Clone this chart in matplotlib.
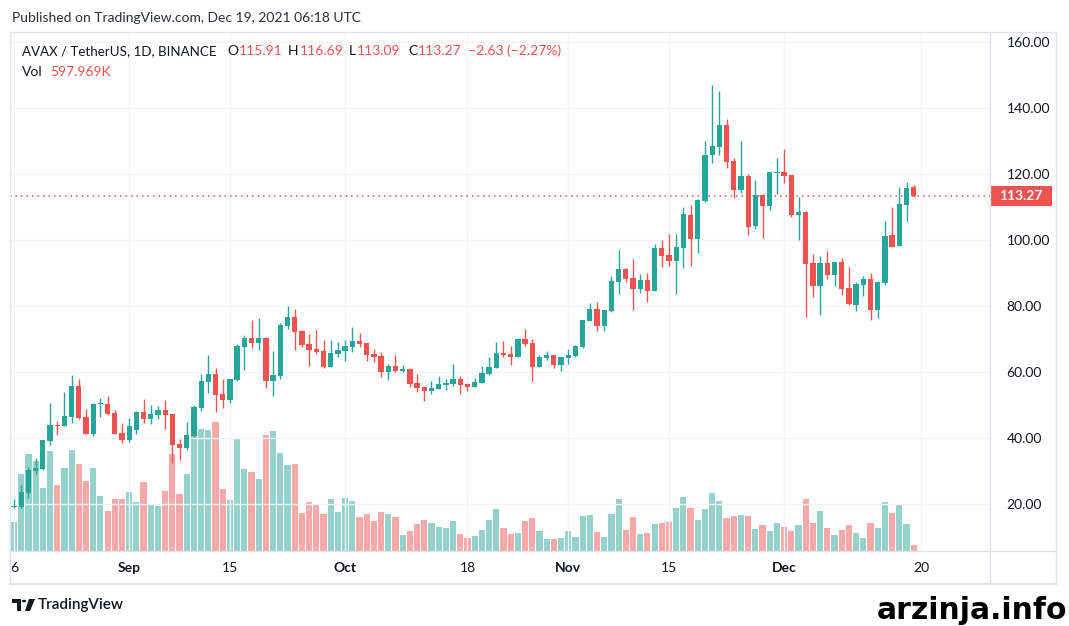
import matplotlib
matplotlib.use('Agg')
import matplotlib.pyplot as plt
import matplotlib.dates as mdates
import matplotlib.transforms as mtransforms
from matplotlib.patches import Rectangle, Polygon, Circle
from matplotlib.lines import Line2D
import pandas as pd
import numpy as np

plt.rcParams['font.family'] = ['Lato', 'DejaVu Sans']

# ---------------- data ----------------
dates = pd.date_range('2021-08-16', '2021-12-19', freq='D')

opens = [19.0, 19.2, 23.4, 30.1, 30.7, 39.2, 43.9, 43.7, 46.5, 55.8, 46.4, 41.3, 50.2, 50.3, 47.6, 41.5,
         39.5, 42.5, 47.9, 45.9, 47.1, 48.5, 47.3, 38.2, 37.1, 40.7, 49.2, 57.1, 59.4, 53.3, 51.6, 57.7,
         67.7, 70.3, 68.9, 70.3, 57.4, 58.9, 74.0, 76.7, 72.4, 68.5, 67.0, 66.4, 61.6, 65.6,
         66.5, 67.7, 69.4, 68.8, 65.5, 64.8, 60.1, 61.8, 60.4, 60.9, 56.7, 55.5, 54.3, 54.9, 56.2, 56.5,
         57.9, 56.4, 55.6, 56.8, 59.4, 61.3, 65.8, 65.5, 64.6, 70.0, 68.8, 61.5, 64.2, 65.2, 62.1,
         64.2, 64.8, 67.6, 75.5, 79.1, 73.9, 78.5, 87.4, 91.2, 88.5, 85.1, 87.9, 84.5, 97.6, 95.4, 93.6,
         97.6, 107.6, 100.3, 111.9, 125.7, 128.2, 134.8, 123.9, 115.1, 119.4, 104.2, 113.6, 110.3, 120.3,
         120.6, 119.7, 107.6, 108.5, 93.0, 86.1, 93.0, 89.4, 93.3, 85.5, 80.3, 86.4, 88.2, 78.8, 87.0,
         101.5, 98.2, 110.6, 115.91]
highs = [21.4, 25.8, 31.2, 33.9, 39.5, 50.6, 45.2, 53.9, 59.1, 57.9, 48.8, 50.7, 52.1, 52.7, 48.5, 44.5,
         46.1, 48.2, 51.8, 50.0, 49.7, 51.5, 47.3, 39.7, 44.8, 50.0, 59.4, 65.2, 61.2, 57.9, 57.9, 68.5,
         71.2, 75.8, 76.4, 70.6, 66.4, 74.8, 80.0, 79.1, 72.7, 71.5, 72.7, 69.7, 69.7, 69.1,
         69.7, 73.6, 71.8, 68.8, 67.0, 66.1, 62.4, 65.2, 62.1, 61.2, 59.4, 55.5, 57.3, 58.8, 57.9, 62.4,
         58.8, 56.8, 58.2, 61.8, 64.5, 69.1, 69.4, 67.9, 70.0, 73.0, 70.0, 65.2, 66.4, 65.2, 64.5,
         67.0, 68.2, 75.8, 80.9, 81.2, 78.8, 89.1, 97.0, 91.5, 94.2, 89.7, 90.0, 98.8, 100.0, 101.8, 101.8,
         110.0, 110.6, 112.4, 130.0, 147.0, 145.1, 136.7, 124.8, 130.0, 120.0, 118.2, 113.9, 120.6, 124.8,
         127.6, 119.7, 113.0, 108.8, 95.8, 95.2, 96.7, 93.3, 94.5, 91.8, 87.3, 89.1, 90.0, 87.6, 105.8,
         110.0, 116.1, 117.6, 116.69]
lows = [18.8, 18.9, 21.9, 29.2, 30.4, 38.0, 41.0, 43.7, 44.4, 45.8, 41.3, 40.7, 46.5, 47.1, 41.3, 38.6,
        38.9, 41.3, 44.6, 44.3, 45.9, 42.8, 32.5, 33.4, 36.5, 40.4, 48.3, 53.7, 48.0, 49.2, 50.7, 57.4,
        60.6, 67.4, 66.8, 55.3, 52.8, 58.0, 73.1, 66.8, 67.7, 61.9, 65.5, 61.2, 61.6, 64.6,
        63.4, 66.2, 67.7, 63.4, 63.0, 58.6, 57.7, 60.1, 60.1, 55.6, 54.0, 51.3, 53.4, 54.9, 54.6, 55.9,
        53.4, 54.3, 55.6, 56.8, 59.1, 61.3, 64.6, 62.1, 64.6, 67.9, 57.3, 61.5, 63.6, 61.2, 60.3,
        62.4, 64.5, 67.3, 75.5, 72.4, 72.4, 78.2, 83.7, 87.4, 78.8, 83.9, 81.2, 84.5, 91.8, 92.1, 83.6,
        91.5, 92.1, 96.1, 111.5, 123.3, 125.7, 121.8, 112.7, 114.2, 101.5, 103.3, 100.6, 109.1, 113.9,
        117.3, 107.0, 100.0, 76.7, 82.7, 77.3, 88.2, 86.1, 83.3, 80.3, 78.5, 83.0, 75.8, 76.4, 86.4,
        97.9, 98.2, 105.8, 113.09]
closes = [19.5, 23.5, 30.3, 31.0, 39.4, 43.9, 43.7, 46.7, 55.8, 46.2, 41.3, 50.3, 50.4, 47.4, 41.3, 39.5,
          43.5, 47.9, 45.9, 47.3, 48.5, 47.1, 38.0, 37.1, 40.9, 49.4, 57.3, 59.4, 53.1, 51.6, 57.9, 67.9,
          70.3, 68.9, 70.3, 57.4, 59.1, 74.2, 76.7, 72.2, 68.3, 66.8, 66.1, 61.6, 65.8, 66.7,
          67.9, 69.4, 68.6, 65.3, 64.6, 60.1, 61.8, 60.4, 60.9, 56.5, 55.3, 54.3, 55.2, 56.4, 56.8, 57.9,
          56.2, 55.6, 57.0, 59.7, 61.5, 65.8, 65.2, 64.6, 70.0, 68.5, 61.5, 64.5, 65.2, 62.1, 64.5,
          65.2, 67.9, 75.8, 79.1, 73.9, 78.8, 87.6, 91.2, 88.2, 85.1, 87.9, 84.5, 97.6, 95.1, 93.6, 97.9,
          107.9, 100.3, 112.1, 125.7, 128.5, 134.8, 123.6, 115.1, 119.4, 104.0, 113.6, 110.3, 120.6, 120.6,
          119.4, 107.6, 108.5, 92.7, 86.1, 93.0, 89.4, 93.3, 85.2, 80.6, 86.7, 88.2, 78.8, 87.3, 101.2,
          97.9, 110.9, 115.90, 113.27]
# volume in millions of AVAX
volumes = [2.9, 7.7, 9.7, 9.0, 6.3, 10.0, 6.6, 8.3, 10.1, 8.7, 7.0, 8.3, 5.5, 4.0, 5.2, 5.2,
           5.9, 4.9, 6.9, 4.6, 4.5, 6.0, 9.7, 5.7, 7.7, 12.9, 12.2, 12.1, 12.9, 6.2, 5.1, 11.3,
           8.2, 7.9, 7.2, 11.6, 12.0, 9.8, 8.6, 8.7, 3.8, 4.9, 4.6, 3.7, 5.2, 3.9,
           5.3, 5.0, 3.4, 3.7, 3.0, 3.9, 3.7, 3.4, 1.6, 2.0, 2.7, 3.1, 2.8, 2.4, 2.3, 3.0,
           1.7, 1.3, 1.5, 2.1, 3.1, 4.2, 2.3, 1.7, 1.8, 3.0, 3.3, 2.0, 1.2, 1.2, 1.3,
           2.0, 1.4, 3.5, 3.6, 1.9, 1.4, 3.7, 5.2, 2.1, 3.4, 1.7, 1.8, 2.7, 2.8, 2.9, 4.3,
           5.4, 4.3, 3.1, 4.2, 5.8, 5.0, 3.3, 3.5, 3.6, 3.5, 2.2, 2.6, 2.0, 2.8,
           2.4, 2.0, 2.6, 5.2, 2.8, 4.0, 2.3, 1.6, 2.1, 2.6, 1.8, 1.3, 2.8, 2.3, 4.9,
           3.8, 4.7, 2.7, 0.597969]

tick_dates = ['2021-08-16', '2021-09-01', '2021-09-15', '2021-10-01', '2021-10-18',
              '2021-11-01', '2021-11-15', '2021-12-01', '2021-12-20']
tick_labels = ['16', 'Sep', '15', 'Oct', '18', 'Nov', '15', 'Dec', '20']
tick_is_month = [False, True, False, True, False, True, False, True, False]
price_ticks = [20, 40, 60, 80, 100, 120, 140, 160]

symbol = 'AVAX / TetherUS, 1D, BINANCE'
published = 'Published on TradingView.com, Dec 19, 2021 06:18 UTC'

# ---------------- style ----------------
W, H = 1069, 626
UP, DOWN = '#26a69a', '#ef5350'
UP_V, DOWN_V = '#94d2cb', '#f7a9a7'
TXT = '#131722'
FRAME = '#e0e3eb'
GRID = '#f2f4f8'


def fx(p):
    return p / W


def fy(p):
    return 1 - p / H


fig = plt.figure(figsize=(W / 100, H / 100), dpi=100)
fig.patch.set_facecolor('white')
renderer = fig.canvas.get_renderer()

x = mdates.date2num(dates)
o = np.array(opens)
h = np.array(highs)
l = np.array(lows)
c = np.array(closes)
v = np.array(volumes)
up = c >= o

ax_rect = [fx(10), fy(551), fx(990) - fx(10), fy(32) - fy(551)]
ax_v = fig.add_axes(ax_rect)
ax = fig.add_axes(ax_rect)
ax.set_zorder(ax_v.get_zorder() + 1)
ax.patch.set_visible(False)

xmin = x[0] - 0.56
xmax = x[0] + 135.6
ymin, ymax = 5.76, 163.03

# volume
ax_v.bar(x, v, width=0.86, color=np.where(up, UP_V, DOWN_V), linewidth=0)
ax_v.set_xlim(xmin, xmax)
ax_v.set_ylim(0, 51.9)
ax_v.axis('off')

# candles
ax.vlines(x, l, h, colors=np.where(up, UP, DOWN), linewidth=1.0, zorder=3)
body_bottom = np.minimum(o, c)
body_h = np.maximum(np.abs(c - o), 0.35)
ax.bar(x, body_h, bottom=body_bottom, width=0.74, color=np.where(up, UP, DOWN),
       linewidth=0, zorder=4)

ax.set_xlim(xmin, xmax)
ax.set_ylim(ymin, ymax)
ax.set_xticks(mdates.date2num(pd.to_datetime(tick_dates)))
ax.set_yticks(price_ticks)
ax.set_yticklabels([f'{p:.2f}' for p in price_ticks])
ax.yaxis.tick_right()
ax.tick_params(axis='x', length=0, labelbottom=False)
ax.tick_params(axis='y', length=0, pad=12, labelsize=10, labelcolor=TXT)
ax.grid(True, color=GRID, linewidth=1, zorder=0)
ax.set_axisbelow(True)
for s in ax.spines.values():
    s.set_visible(False)

# last price line & tag
last = c[-1]
ax.axhline(last, color=DOWN if not up[-1] else UP, linewidth=1.1,
           linestyle=(0, (1, 2.6)), zorder=2)
blend = mtransforms.blended_transform_factory(ax.transAxes, ax.transData)
px_per_unit = (fy(32) - fy(551)) * H / (ymax - ymin)
tag_h = 20 / px_per_unit
tag_w = 62 / 980
ax.add_patch(Rectangle((1.0, last - tag_h / 2), tag_w, tag_h, transform=blend,
                       facecolor=DOWN, edgecolor='none', clip_on=False, zorder=5))
ax.text(1.0 + tag_w / 2, last, f'{last:.2f}', transform=blend, ha='center', va='center',
        color='white', fontsize=10, fontweight='bold', clip_on=False, zorder=6)

# time axis pane
ax_t = fig.add_axes([fx(10.5), fy(584), fx(990) - fx(10.5), fy(551) - fy(584)])
ax_t.set_xlim(xmin + 0.07, xmax)
ax_t.set_ylim(0, 1)
ax_t.axis('off')
for d, lab, bold in zip(pd.to_datetime(tick_dates), tick_labels, tick_is_month):
    ax_t.text(mdates.date2num(d) - (0.35 if lab == '16' else 0), 0.5, lab, ha='center',
              va='center', fontsize=10, fontweight='bold' if bold else 'normal', color=TXT,
              clip_on=True)

# frame lines
def fline(x0, y0, x1, y1, color=FRAME, lw=1.0):
    fig.add_artist(Line2D([fx(x0), fx(x1)], [fy(y0), fy(y1)], transform=fig.transFigure,
                          color=color, linewidth=lw))

fline(10, 32, 1056, 32)
fline(10, 32, 10, 584)
fline(1056, 32, 1056, 584)
fline(10, 584, 1056, 584, lw=1.5)
fline(990, 32, 990, 584)
fline(10, 551, 1056, 551)

# header
fig.text(fx(12), fy(18), published, ha='left', va='center', fontsize=10, color='#2a2e39')
fig.text(fx(22), fy(51), symbol, ha='left', va='center', fontsize=9.6, color=TXT)
chg = c[-1] - c[-2]
pct = chg / c[-2] * 100
fmt = lambda val: f'{val:.2f}'.replace('-', '\u2212')
groups = [('O', fmt(o[-1]), 227), ('H', fmt(h[-1]), 288), ('L', fmt(l[-1]), 349),
          ('C', fmt(c[-1]), 408), ('', f'{fmt(chg)} ({fmt(pct)}%)', 468)]
for letter, val, px in groups:
    xs = px
    if letter:
        t = fig.text(fx(px), fy(51), letter, ha='left', va='center', fontsize=10, color=TXT)
        xs = t.get_window_extent(renderer).x1 + 1
    fig.text(xs / W, fy(51), val, ha='left', va='center', fontsize=10, color=DOWN)
t = fig.text(fx(22), fy(72), 'Vol', ha='left', va='center', fontsize=10, color=TXT)
xs = t.get_window_extent(renderer).x1 + 8
fig.text(xs / W, fy(72), f'{v[-1] * 1000:.3f}K', ha='left', va='center', fontsize=10, color=DOWN)

# TradingView logo (bottom-left)
logo_col = '#131722'
fig.add_artist(Polygon([(fx(12), fy(599)), (fx(21), fy(599)), (fx(21), fy(611)), (fx(17), fy(611)),
                        (fx(17), fy(603)), (fx(12), fy(603))], closed=True, transform=fig.transFigure,
                       facecolor=logo_col, edgecolor='none'))
fig.add_artist(Circle((fx(24), fy(601)), 2.2 / W, transform=fig.transFigure,
                      facecolor=logo_col, edgecolor='none'))
fig.add_artist(Polygon([(fx(29), fy(599)), (fx(35), fy(599)), (fx(30), fy(611)), (fx(25), fy(611))],
                       closed=True, transform=fig.transFigure, facecolor=logo_col, edgecolor='none'))
fig.text(fx(38), fy(605.5), 'TradingView', ha='left', va='center', fontsize=11, color=logo_col,
         fontweight='semibold')

# watermark
fig.text(fx(877), fy(619), 'arzinja.info', ha='left', va='baseline', fontsize=21.5,
         fontweight='bold', family='DejaVu Sans', color='black')

fig.savefig('out.png', dpi=100)
